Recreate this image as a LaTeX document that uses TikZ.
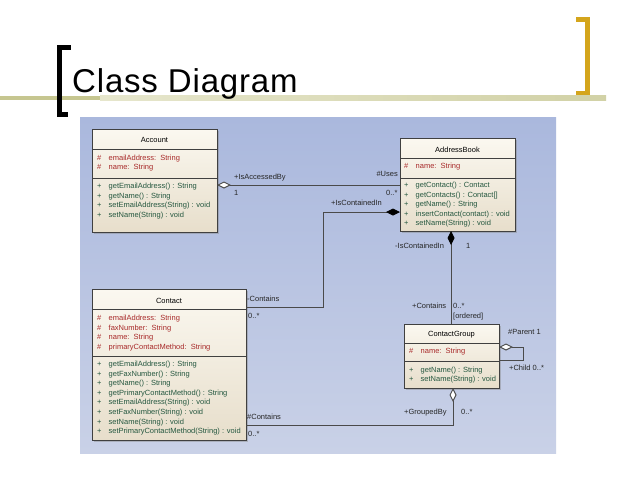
\documentclass[tikz,border=0pt]{standalone}
\usepackage{fontspec}
\setmainfont{Liberation Sans}
\usetikzlibrary{arrows.meta,shadows}
\definecolor{attrc}{HTML}{A82A2A}
\definecolor{methc}{HTML}{24573F}
\definecolor{edgec}{HTML}{4A4A4A}
\definecolor{boxtop}{HTML}{FBF8F0}
\definecolor{boxbot}{HTML}{E7DECB}
\definecolor{paneltop}{HTML}{AAB8DD}
\definecolor{panelbot}{HTML}{C9D1E7}
\definecolor{olive}{HTML}{C6C690}
\definecolor{olivelt}{HTML}{E6E6CC}
\definecolor{gold}{HTML}{D4A51C}
\newcommand\fs{\fontsize{7.5}{9}\selectfont}
\newcommand\clsrow[5]{%
  \node[#1] at (#2,#3) {#4};
  \node[#1] at (#2+11.5,#3) {#5};}
\begin{document}
\begin{tikzpicture}[x=1pt,y=-1pt,
  cls/.style={draw=black!75, line width=0.6pt, top color=boxtop, bottom color=boxbot,
    anchor=north west, inner sep=0, outer sep=0,
    drop shadow={shadow xshift=1.5pt, shadow yshift=-1.5pt, opacity=0.4}},
  sep/.style={draw=black!75, line width=0.6pt},
  ttl/.style={font=\fs, text=black, inner sep=0},
  attr/.style={anchor=base west, inner sep=0, font=\fs, text=attrc},
  meth/.style={anchor=base west, inner sep=0, font=\fs, text=methc},
  lab/.style={anchor=base west, inner sep=0, font=\fs, text=black!85},
  conn/.style={draw=edgec, line width=0.9pt},
  comp/.style={{Diamond[length=14pt,width=7pt,fill=black,color=black]}-},
  aggr/.style={{Diamond[open,length=14pt,width=7pt,fill=white,color=edgec]}-}]
\useasboundingbox (0,0) rectangle (638,479);
\fill[white] (0,0) rectangle (638,479);
% title decoration
\fill[olive] (0,95.5) rectangle (100,100);
\shade[left color=olivelt, right color=olive!80] (100,95.5) rectangle (606,100);
\fill[black] (57,45) rectangle (62,117);
\fill[black] (57,45) rectangle (71,50);
\fill[black] (57,112) rectangle (68,117);
\fill[gold] (585,17) rectangle (590,95);
\fill[gold] (576,17) rectangle (590,21.5);
\fill[gold] (576,90.5) rectangle (590,95);
\node[anchor=base west, inner sep=0, font=\fontsize{33}{34}\selectfont\addfontfeature{LetterSpace=2.5}] (title) at (72,92) {Class Diagram};
% panel
\shade[top color=paneltop, bottom color=panelbot] (80,117) rectangle (556,453);
% classes
\node[cls, minimum width=125pt, minimum height=103pt] (acc) at (92,129) {};
\node[cls, minimum width=115pt, minimum height=93pt] (ab) at (400,138) {};
\node[cls, minimum width=154pt, minimum height=151pt] (con) at (92,289) {};
\node[cls, minimum width=95pt, minimum height=64pt] (cg) at (404,324) {};
\draw[sep] (acc.west |- 0,149) -- (acc.east |- 0,149);
\draw[sep] (acc.west |- 0,178) -- (acc.east |- 0,178);
\draw[sep] (ab.west |- 0,158) -- (ab.east |- 0,158);
\draw[sep] (ab.west |- 0,178) -- (ab.east |- 0,178);
\draw[sep] (con.west |- 0,309) -- (con.east |- 0,309);
\draw[sep] (con.west |- 0,356) -- (con.east |- 0,356);
\draw[sep] (cg.west |- 0,343) -- (cg.east |- 0,343);
\draw[sep] (cg.west |- 0,361) -- (cg.east |- 0,361);
% Account
\node[ttl] (acct) at (154.5,140) {Account};
\clsrow{attr}{97}{160.5}{\#}{emailAddress:\ \ String}
\clsrow{attr}{97}{169.8}{\#}{name:\ \ String}
\clsrow{meth}{97}{188.5}{+}{getEmailAddress() : String}
\clsrow{meth}{97}{198}{+}{getName() : String}
\clsrow{meth}{97}{207.5}{+}{setEmailAddress(String) : void}
\clsrow{meth}{97}{217}{+}{setName(String) : void}
% AddressBook
\node[ttl] (abt) at (457.5,150) {AddressBook};
\clsrow{attr}{404}{168.5}{\#}{name:\ \ String}
\clsrow{meth}{404}{187.5}{+}{getContact() : Contact}
\clsrow{meth}{404}{197}{+}{getContacts() : Contact[]}
\clsrow{meth}{404}{206.5}{+}{getName() : String}
\clsrow{meth}{404}{216}{+}{insertContact(contact) : void}
\clsrow{meth}{404}{225.5}{+}{setName(String) : void}
% Contact
\node[ttl] (cont) at (169,301) {Contact};
\clsrow{attr}{97}{320.5}{\#}{emailAddress:\ \ String}
\clsrow{attr}{97}{330}{\#}{faxNumber:\ \ String}
\clsrow{attr}{97}{339.5}{\#}{name:\ \ String}
\clsrow{attr}{97}{349}{\#}{primaryContactMethod:\ \ String}
\clsrow{meth}{97}{366.5}{+}{getEmailAddress() : String}
\clsrow{meth}{97}{376}{+}{getFaxNumber() : String}
\clsrow{meth}{97}{385.6}{+}{getName() : String}
\clsrow{meth}{97}{395.2}{+}{getPrimaryContactMethod() : String}
\clsrow{meth}{97}{404.8}{+}{setEmailAddress(String) : void}
\clsrow{meth}{97}{414.4}{+}{setFaxNumber(String) : void}
\clsrow{meth}{97}{424}{+}{setName(String) : void}
\clsrow{meth}{97}{433.5}{+}{setPrimaryContactMethod(String) : void}
% ContactGroup
\node[ttl] (cgt) at (451.5,335) {ContactGroup};
\clsrow{attr}{409}{353.5}{\#}{name:\ \ String}
\clsrow{meth}{409}{372.5}{+}{getName() : String}
\clsrow{meth}{409}{381.8}{+}{setName(String) : void}
% connectors
\draw[conn, aggr] (acc.east |- 0,185) -- (ab.west |- 0,185);
\draw[conn, comp] (ab.west |- 0,212) -| (323,307) -- (con.east |- 0,307);
\draw[conn, comp] (451,0 |- ab.south) -- (451,0 |- cg.north);
\draw[conn, aggr] (453,0 |- cg.south) |- (con.east |- 0,425);
\draw[conn, aggr] (cg.east |- 0,347) -- (523,347) -- (523,360) -- (cg.east |- 0,360);
% labels
\node[lab] (l1) at (234,179.6) {+IsAccessedBy};
\node[lab] (l2) at (234,195.6) {1};
\node[lab, anchor=base east] (l3) at (398,176.6) {\#Uses};
\node[lab] (l4) at (386,195.6) {0..*};
\node[lab] (l5) at (331,205.6) {+IsContainedIn};
\node[lab] (l6) at (395,248.6) {-IsContainedIn};
\node[lab] (l7) at (466,248.6) {1};
\node[lab] (l8) at (247,301.6) {-Contains};
\node[lab] (l9) at (248,318.6) {0..*};
\node[lab] (l10) at (412,308.6) {+Contains};
\node[lab] (l11) at (453,308.6) {0..*};
\node[lab] (l12) at (453,318.6) {[ordered]};
\node[lab] (l13) at (508,334.6) {\#Parent 1};
\node[lab] (l14) at (509,370.6) {+Child 0..*};
\node[lab] (l15) at (404,414.6) {+GroupedBy};
\node[lab] (l16) at (461,414.6) {0..*};
\node[lab] (l17) at (247,419.6) {\#Contains};
\node[lab] (l18) at (248,436.6) {0..*};
\end{tikzpicture}
\end{document}
